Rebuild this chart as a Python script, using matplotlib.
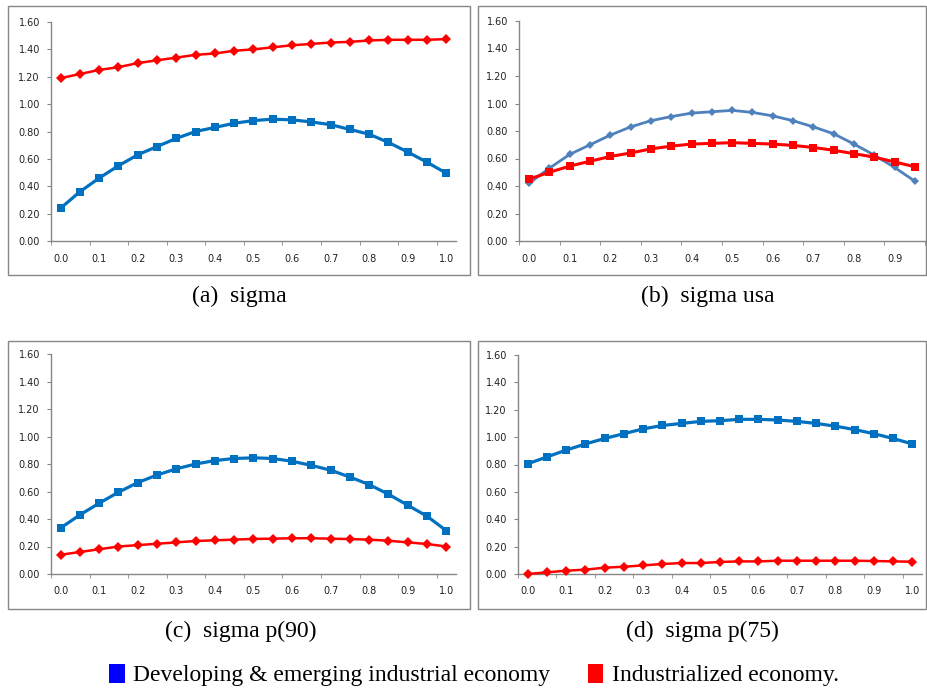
import numpy as np
import matplotlib
matplotlib.use("Agg")
import matplotlib.pyplot as plt
from matplotlib.patches import Rectangle, Patch

# ─────────────────────────────
# data
# ─────────────────────────────
x_labels_21 = ["0.0", "0.1", "0.2", "0.3", "0.4", "0.5", "0.6", "0.7", "0.8", "0.9", "1.0"]
x_labels_20 = ["0.0", "0.1", "0.2", "0.3", "0.4", "0.5", "0.6", "0.7", "0.8", "0.9"]
y_ticks = [0.0, 0.2, 0.4, 0.6, 0.8, 1.0, 1.2, 1.4, 1.6]

# (a) sigma
a_dev = [0.24, 0.36, 0.46, 0.55, 0.63, 0.69, 0.75, 0.80, 0.83, 0.86, 0.88,
         0.89, 0.885, 0.87, 0.85, 0.815, 0.78, 0.72, 0.65, 0.575, 0.495]
a_ind = [1.19, 1.22, 1.25, 1.27, 1.30, 1.32, 1.34, 1.36, 1.37, 1.39, 1.40,
         1.415, 1.43, 1.44, 1.45, 1.455, 1.465, 1.47, 1.47, 1.47, 1.475]

# (b) sigma usa
b_dev = [0.42, 0.53, 0.63, 0.70, 0.77, 0.83, 0.875, 0.905, 0.93, 0.94,
         0.95, 0.935, 0.91, 0.875, 0.83, 0.78, 0.705, 0.625, 0.535, 0.435]
b_ind = [0.45, 0.50, 0.545, 0.58, 0.615, 0.64, 0.67, 0.69, 0.705, 0.71,
         0.715, 0.71, 0.705, 0.695, 0.68, 0.66, 0.635, 0.61, 0.575, 0.54]

# (c) sigma p(90)
c_dev = [0.335, 0.43, 0.515, 0.595, 0.665, 0.72, 0.765, 0.80, 0.825, 0.84, 0.845,
         0.84, 0.82, 0.79, 0.755, 0.705, 0.65, 0.58, 0.50, 0.42, 0.315]
c_ind = [0.14, 0.16, 0.18, 0.20, 0.21, 0.22, 0.23, 0.24, 0.245, 0.25, 0.255,
         0.257, 0.26, 0.26, 0.257, 0.254, 0.25, 0.242, 0.23, 0.218, 0.20]

# (d) sigma p(75)
d_dev = [0.805, 0.855, 0.905, 0.95, 0.99, 1.025, 1.06, 1.085, 1.10, 1.115, 1.12,
         1.13, 1.13, 1.125, 1.115, 1.10, 1.08, 1.055, 1.025, 0.99, 0.95]
d_ind = [0.0, 0.012, 0.024, 0.032, 0.046, 0.053, 0.063, 0.073, 0.08, 0.08, 0.088,
         0.092, 0.092, 0.097, 0.097, 0.097, 0.097, 0.097, 0.095, 0.092, 0.09]

captions = ["(a)  sigma", "(b)  sigma usa", "(c)  sigma p(90)", "(d)  sigma p(75)"]
legend_labels = ["Developing & emerging industrial economy", "Industrialized economy."]

# ─────────────────────────────
# styles
# ─────────────────────────────
W, H = 928, 691
BLUE = "#0070C0"
BLUE_B = "#4F81BD"
RED = "#FF0000"
GRAY = "#868686"
SERIF = dict(family="Liberation Serif", size=17)


def fx(px):
    return px / W


def fy(py):
    return 1 - py / H


fig = plt.figure(figsize=(W / 100, H / 100), dpi=100)

panels = [
    # frame (x0, y0, x1, y1), axes (x0, ytop, x1, ybottom)
    dict(frame=(8, 6, 470, 275), ax=(51, 22, 456, 241), dev=a_dev, ind=a_ind,
         labels=x_labels_21, dev_style=("s", BLUE, 6.3, 2.3), ind_style=("D", RED, 5.0, 1.8),
         cap=(239, 296)),
    dict(frame=(478, 6, 926, 275), ax=(519, 21, 925, 241), dev=b_dev, ind=b_ind,
         labels=x_labels_20, dev_style=("D", BLUE_B, 4.0, 2.0), ind_style=("s", RED, 5.3, 2.2),
         cap=(708, 296)),
    dict(frame=(8, 341, 470, 609), ax=(51, 354, 456, 574), dev=c_dev, ind=c_ind,
         labels=x_labels_21, dev_style=("s", BLUE, 6.3, 2.3), ind_style=("D", RED, 5.0, 1.8),
         cap=(241, 631)),
    dict(frame=(478, 341, 926, 609), ax=(518, 355, 922, 574), dev=d_dev, ind=d_ind,
         labels=x_labels_21, dev_style=("s", BLUE, 6.3, 2.3), ind_style=("D", RED, 5.0, 1.8),
         cap=(702, 631)),
]

for p, cap in zip(panels, captions):
    x0, y0, x1, y1 = p["frame"]
    fig.patches.append(Rectangle((fx(x0), fy(y1)), fx(x1 - x0), (y1 - y0) / H,
                                 transform=fig.transFigure, fill=False,
                                 edgecolor=GRAY, linewidth=1.0))

    ax0, atop, ax1, abot = p["ax"]
    ax = fig.add_axes([fx(ax0), fy(abot), fx(ax1 - ax0), (abot - atop) / H])

    n = len(p["dev"])
    xs = np.arange(n)
    for vals, (mk, col, ms, lw) in ((p["dev"], p["dev_style"]), (p["ind"], p["ind_style"])):
        ax.plot(xs, vals, color=col, marker=mk, markersize=ms, linewidth=lw,
                markeredgewidth=0, clip_on=False, zorder=3)

    ax.set_xlim(-0.5, n - 0.5)
    ax.set_ylim(0, 1.6)

    ax.set_yticks(y_ticks)
    ax.set_yticklabels([f"{v:.2f}" for v in y_ticks])
    ax.set_xticks(np.arange(0, n, 2)[:len(p["labels"])])
    ax.set_xticklabels(p["labels"])
    ax.set_xticks(np.arange(-0.5, n, 2), minor=True)

    ax.tick_params(axis="x", which="major", length=0, pad=9, labelsize=7, labelcolor="#222222")
    ax.tick_params(axis="x", which="minor", length=3, color=GRAY, direction="out")
    ax.tick_params(axis="y", length=3, color=GRAY, pad=5, labelsize=7, labelcolor="#222222")

    for side in ("top", "right"):
        ax.spines[side].set_visible(False)
    for side in ("left", "bottom"):
        ax.spines[side].set_color(GRAY)
        ax.spines[side].set_linewidth(1.0)
    ax.set_facecolor("none")

    cx, cy = p["cap"]
    fig.text(fx(cx), fy(cy), cap, ha="center", va="center",
             family=SERIF["family"], fontsize=SERIF["size"])

# ─────────────────────────────
# legend
# ─────────────────────────────
handles = [Patch(facecolor="#0000FF", edgecolor="none"),
           Patch(facecolor=RED, edgecolor="none")]
fig.legend(handles, legend_labels, loc="center", bbox_to_anchor=(fx(474), fy(675)),
           ncol=2, frameon=False, handlelength=0.65, handleheight=0.9,
           handletextpad=0.35, columnspacing=1.6, prop=SERIF)

plt.savefig("out.png", dpi=100)
